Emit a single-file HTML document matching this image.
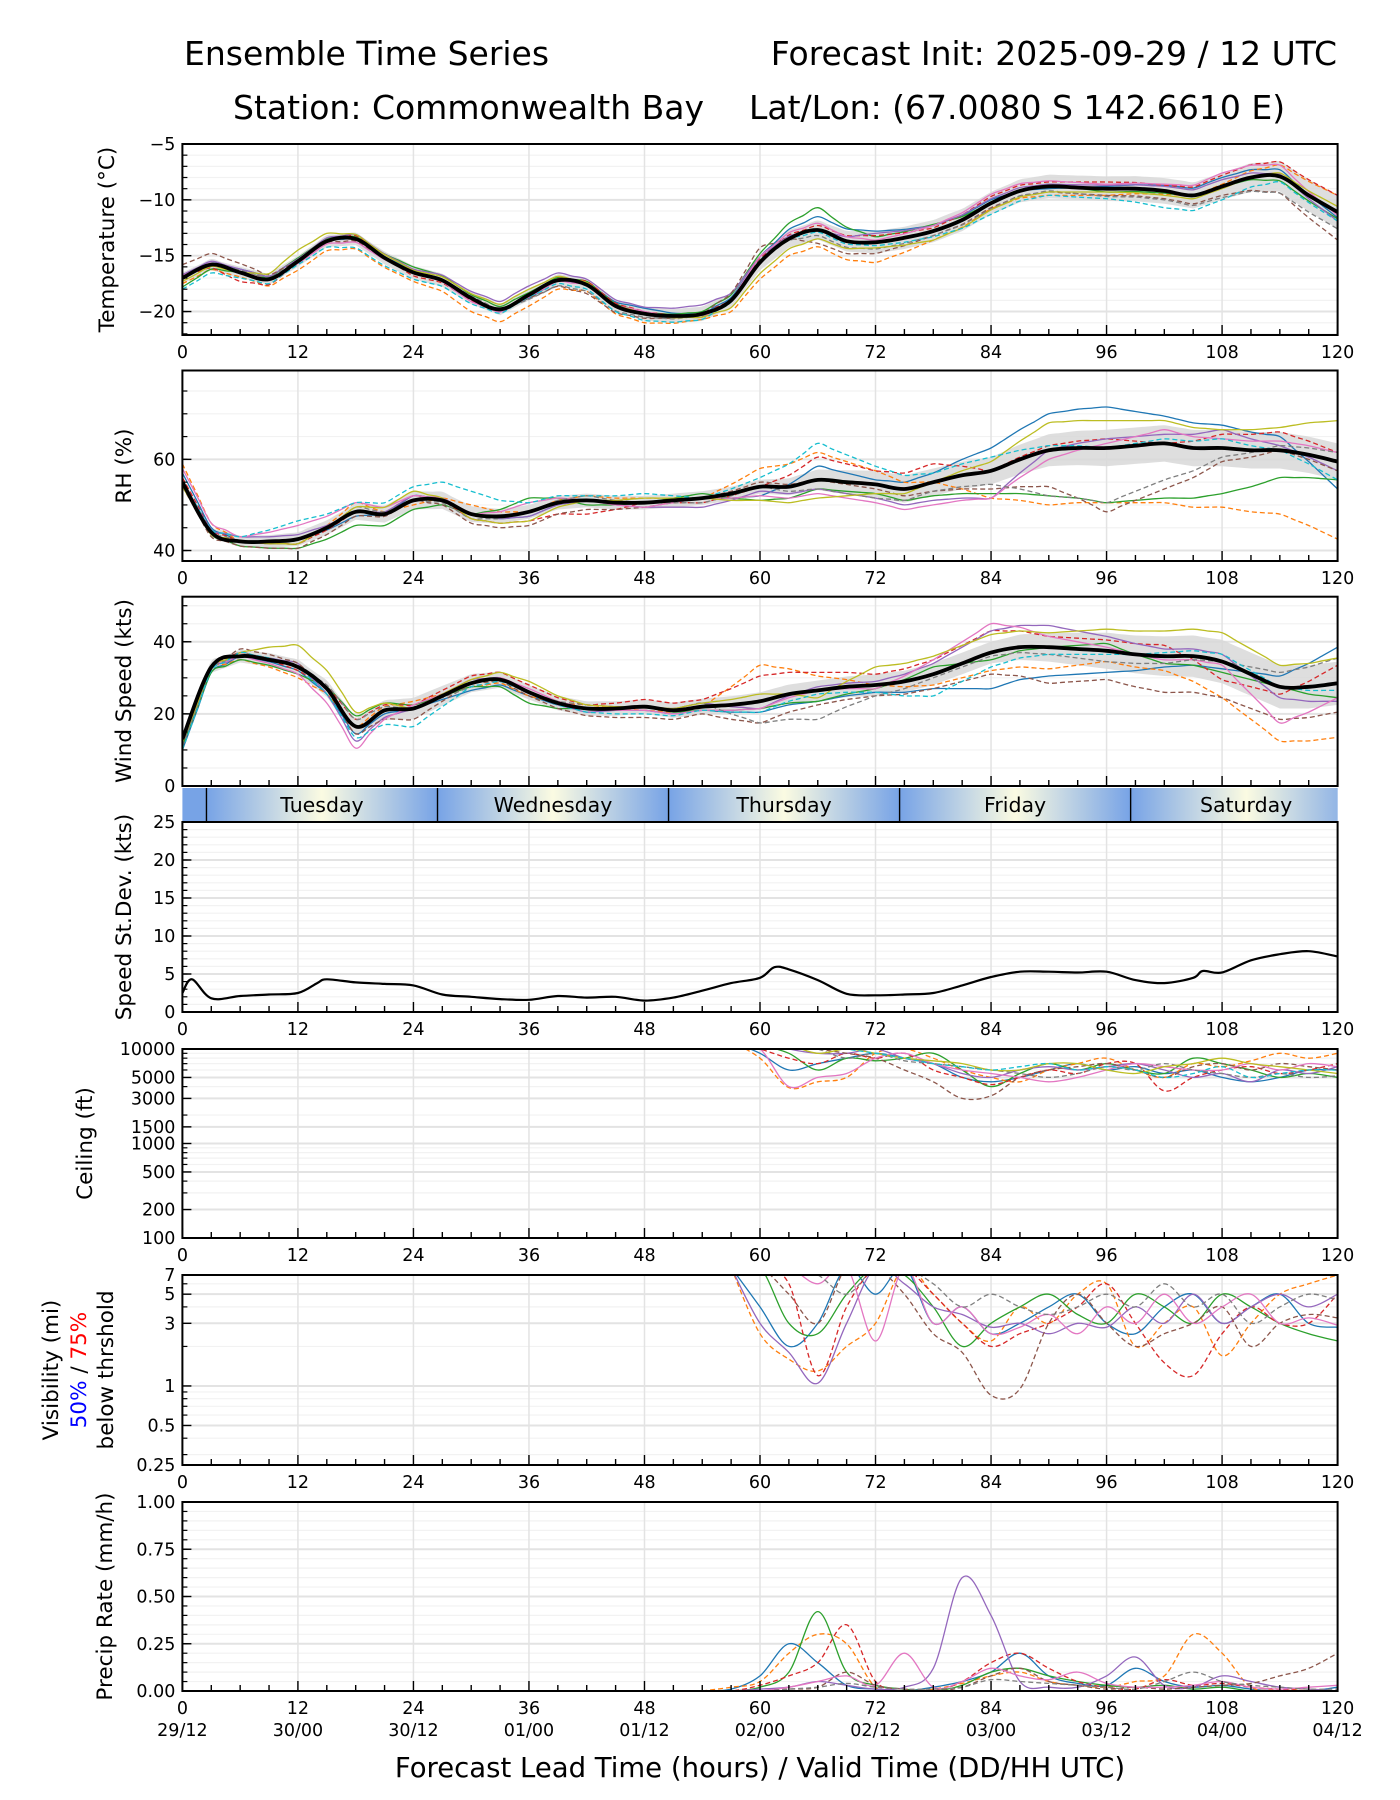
<!DOCTYPE html>
<html><head><meta charset="utf-8">
<style>
html,body{margin:0;padding:0;background:#fff;}
svg{display:block;font-family:"DejaVu Sans","Liberation Sans",sans-serif;}
</style></head>
<body>
<svg id="chart" width="1400" height="1800" viewBox="0 0 1400 1800" xmlns="http://www.w3.org/2000/svg">
<defs>
<linearGradient id="dayg" x1="0" x2="1" y1="0" y2="0">
<stop offset="0" stop-color="#77a3e6"/><stop offset="0.5" stop-color="#fbfbe2"/><stop offset="1" stop-color="#77a3e6"/>
</linearGradient>
</defs>
<text x="184" y="65" font-size="33">Ensemble Time Series</text>
<text x="1337" y="65" font-size="33" text-anchor="end">Forecast Init: 2025-09-29 / 12 UTC</text>
<text x="704" y="119" font-size="33" text-anchor="end">Station: Commonwealth Bay</text>
<text x="749" y="119" font-size="33">Lat/Lon: (67.0080 S 142.6610 E)</text>
<g id="root"></g>
</svg>
<script>
// ---------- data ----------
const meanHours = [0,3,6,9,12,15,18,21,24,27,30,33,36,39,42,45,48,51,54,57,60,63,66,69,72,75,78,81,84,87,90,93,96,99,102,105,108,111,114,117,120];
const devHours = [0,6,12,18,24,30,36,42,48,54,60,66,72,78,84,90,96,102,108,114,120];
const spreadHours = [0,12,24,36,48,60,72,84,96,108,120];
const tempMean = [-17,-15.8,-16.5,-17.1,-15.5,-13.7,-13.5,-15.2,-16.5,-17.2,-18.8,-19.8,-18.5,-17.2,-17.6,-19.5,-20.2,-20.4,-20.2,-19.0,-15.6,-13.5,-12.7,-13.7,-13.8,-13.4,-12.8,-11.8,-10.3,-9.2,-8.8,-8.9,-9.0,-9.0,-9.2,-9.6,-8.8,-8.0,-7.9,-9.6,-11.1];
const tempSpread = [0.5,0.5,0.6,0.5,0.6,0.7,1,1,1.1,1.2,1.5];
const tempDev0 = [0,0.3,0.2,0,0.2,0,-0.3,0.2,0.5,0,0.5,1.2,1.0,0.5,0.3,-0.2,0.2,0.5,0.8,0.6,-0.5];
const tempDev1 = [-0.5,-0.4,-0.8,-0.9,-0.8,-1.2,-1.0,-0.6,-0.8,-0.5,-1.5,-1.5,-1.8,-0.8,-0.5,-0.8,-0.6,-0.3,0.2,1.0,1.5];
const tempDev2 = [-0.8,0,0.3,0.2,0.5,0.3,0.2,0.3,0.1,0.2,0.8,2.0,0.5,0.6,0,0.2,-0.3,-0.2,0,-0.4,-0.6];
const tempDev3 = [0.2,-0.8,-0.2,0.3,-0.3,-0.2,0,0.3,0.2,-0.1,0.3,0.4,0.6,0.3,0.6,0.4,0.6,0.5,1.0,1.3,1.5];
const tempDev4 = [0.3,0.3,0.2,0.4,0.3,0.6,0.8,0.5,0.6,0.8,0.5,0,0.8,0.5,0.4,0.2,0.3,0.4,0.6,0.2,-0.8];
const tempDev5 = [1.2,0.8,0,-0.2,0,0,-0.3,-0.8,-0.4,0,1.3,-1.2,-1.0,-0.4,-0.4,-0.5,-0.6,-0.7,-0.8,-1.5,-2.5];
const tempDev6 = [0.2,0.1,-0.2,-0.3,0,-0.3,-0.2,0,0.2,-0.3,0.5,0.6,0.2,0.5,0.8,0.5,0.4,0.6,1.2,1.0,-0.3];
const tempDev7 = [0,0.2,0,0.1,-0.1,0.2,-0.4,-0.6,-0.3,-0.2,0.2,-0.5,-0.6,-0.4,-0.5,-0.4,-0.7,-0.8,-1.0,-1.5,-1.5];
const tempDev8 = [-0.3,0,1.0,0.4,0.2,0.4,0.5,0.2,0,-0.3,-1.0,-0.8,-0.5,-0.8,-0.6,-0.5,-0.3,-0.4,-0.2,0.3,0.5];
const tempDev9 = [-1.0,-0.5,-0.3,-0.8,-0.6,-0.5,-0.2,-0.4,-0.6,-0.5,0.2,-0.2,-0.3,-0.5,-1.0,-0.8,-0.9,-1.5,-1.2,-0.5,-0.8];

const rhMean = [55,44,42,42,42.5,45,48.5,48,51,51,48,47.5,48.5,50.5,51,50.5,50.5,51,51.5,52.5,54,54,55.5,55,54.5,53.5,55,56.5,57.5,60,62,62.5,62.5,63,63.5,62.5,62.5,62,62,61,59.5];
const rhSpread = [1,1.5,2,1.5,1.5,1.5,3,3,4,4,4];
const rhDev0 = [2,0,0,-1,1,0,-1,0,0,0,-2,3,1,2,5,8,9,6,5,3,-6];
const rhDev1 = [4,0,-1,2,-1,2,0,1,1,0,4,6,3,0,-6,-12,-12,-13,-13,-14,-17];
const rhDev2 = [0,-1,-2,-3,-2,0,3,-1,0,1,-3,-2,-2,-3,-5,-10,-12,-12,-10,-6,-4];
const rhDev3 = [1,0,-1,0,1,-1,-2,-3,0,-1,0,5,3,4,0,1,2,0,3,4,2];
const rhDev4 = [0,1,1,0,1,0,-1,0,-1,-2,-1,-2,-3,-4,-6,0,2,2,4,1,-2];
const rhDev5 = [-1,-1,-2,-1,0,-2,-3,-2,-1,0,1,0,-1,-2,-4,-8,-14,-10,-3,0,-2];
const rhDev6 = [3,1,3,2,1,0,2,0,-1,0,-2,-3,-4,-5,-6,-2,1,3,2,2,2];
const rhDev7 = [0,0,-1,1,0,-1,0,1,0,-1,0,-2,-3,-2,-3,-10,-12,-8,-2,1,2];
const rhDev8 = [-1,0,-1,1,2,-1,-2,0,1,0,-3,-4,-2,0,2,6,6,5,4,5,9];
const rhDev9 = [0,1,4,2,3,5,2,1,2,0,2,8,4,2,3,1,0,1,2,0,-4];

const windMean = [13,33,36,35,33,27,16.5,21,21.5,25,28.5,29.5,26,23,21.5,21.5,22,21,22,22.5,23.5,25.5,26.5,27.5,28,29,31,34,37,38.5,38.5,38,37.5,36.5,36,36,34.5,31,27.5,27.5,28.5];
const windSpread = [1.5,2,3,2,2,2.5,3,3,5,6,6];
const windDev0 = [-3,0,-1,-2,0,-2,-1,0,-1,-1,-3,-3,-2,-4,-10,-8,-6,-3,-2,3,10];
const windDev1 = [0,-1,-3,0,2,-1,-1,1,-1,0,10,4,0,-3,-5,-6,-3,-4,-10,-15,-15];
const windDev2 = [-2,-1,-2,3,1,-1,-3,0,0,-1,-2,-3,-1,2,-2,0,2,-2,-3,0,-4];
const windDev3 = [0,1,-1,2,1,2,2,1,2,2,7,5,3,4,6,3,3,3,-5,-2,5];
const windDev4 = [-1,0,1,-4,0,1,0,-1,0,1,-2,1,1,3,6,6,4,2,2,-3,-5];
const windDev5 = [-3,2,1,-2,-3,0,-1,-2,-3,-2,-6,-4,-3,-4,-6,-10,-8,-10,-10,-9,-8];
const windDev6 = [0,0,-2,-6,1,0,1,0,-1,-1,-2,0,-1,4,8,3,1,-1,-1,-10,-4];
const windDev7 = [-2,1,0,2,0,-1,0,1,0,1,-6,-8,-3,-1,-1,-2,-3,-2,0,4,7];
const windDev8 = [-1,1,6,4,0,1,3,1,0,1,2,-2,5,5,5,4,6,7,8,6,7];
const windDev9 = [-3,1,0,-3,-5,-1,0,-1,-2,-1,-3,-1,-2,-6,-4,-2,-1,1,2,0,-2];

const stdevHours = [0,1,3,6,9,12,14,15,18,21,24,27,30,33,36,39,42,45,48,51,54,57,60,61.5,63,66,69,72,75,78,81,84,87,90,93,96,99,102,105,106,108,111,114,117,120];
const stdevVals = [2.5,4.3,1.8,2.1,2.3,2.5,3.8,4.3,3.9,3.7,3.5,2.3,2.0,1.7,1.6,2.1,1.9,2.0,1.5,1.9,2.8,3.8,4.5,5.9,5.6,4.2,2.4,2.2,2.3,2.5,3.5,4.6,5.3,5.3,5.2,5.3,4.2,3.8,4.5,5.4,5.2,6.8,7.6,8.0,7.3];

const lateHours = [57,60,63,66,69,72,75,78,81,84,87,90,93,96,99,102,105,108,111,114,117,120];
const ceil0 = [12000,9000,6000,7000,8000,9000,8000,7000,5000,4500,5000,6000,7000,6000,6500,5500,6000,5000,4500,5000,6000,6000];
const ceil1 = [12000,8000,3900,4500,5000,9000,10000,8000,6000,5000,4500,6000,7000,8000,6000,5000,7000,6500,7500,9000,8000,9000];
const ceil2 = [12000,11000,9000,6000,8000,7500,8000,9000,6000,4000,5500,7000,6000,7000,6000,5500,8000,7000,6000,5000,5500,5000];
const ceil3 = [12000,10000,8000,7000,9000,8000,9000,6000,5000,4200,5000,6000,5500,7000,7000,3600,5000,6000,6500,5500,6000,7000];
const ceil4 = [12000,12000,10000,9000,9000,10000,8000,7000,5500,5000,6000,6500,6000,6500,7000,6000,5000,5500,4500,6000,5500,6500];
const ceil5 = [12000,12000,11000,10000,9000,8000,6000,4500,3000,3200,5000,6000,6500,7000,6000,5000,6500,7000,6000,7000,6500,6000];
const ceil6 = [12000,10000,4000,5000,5500,8000,9000,7000,6000,5500,5000,4500,5000,6000,7000,6500,6000,6000,7000,6000,7000,6500];
const ceil7 = [12000,12000,12000,10000,8000,9000,7500,7000,6500,6000,5500,5000,5500,6500,6000,7000,6000,5500,5000,5500,5000,5200];
const ceil8 = [12000,12000,11000,9000,10000,9000,8000,7500,7000,6000,6000,7000,7000,6000,5500,6500,7000,8000,7000,6500,6000,5500];
const ceil9 = [12000,12000,12000,11000,10000,9000,8000,7000,6500,6000,6500,7000,6000,6500,6000,5000,5500,6500,5000,5500,6000,6000];

const vis0 = [8,4,2,3,8,5,8,3,4,2.5,3,4,5,3,2.5,4,5,3,4,5,3,2.8];
const vis1 = [8,2.5,1.6,1.3,2,3,8,5,3,2.2,4,3,5,6,2,3,4,1.7,3,5,6,7];
const vis2 = [8,8,3,2.5,5,8,7,4,2,3,4,5,3.5,3,5,4,3,5,4,3,2.5,2.2];
const vis3 = [8,8,6,1.2,4,8,8,5,3,2,2.5,3,4,6,3,1.5,1.2,2.5,4,3,3,5];
const vis4 = [8,3,1.8,1.05,3,8,6,4,3.5,2.8,3,2.5,3,2.8,4,3,5,3,4,5,4,5];
const vis5 = [8,8,5,3,8,8,5,2.5,1.8,0.85,0.95,3,5,3,2,2.5,3,4,2,3,3.5,3.3];
const vis6 = [8,8,8,6,8,2.2,8,3,4,2.5,2.8,3.5,2.5,4,3,5,3,4,5,3,3.3,2.9];
const vis7 = [8,8,8,7,5,8,8,6,4,5,4,3.5,4,5,4,6,4,5,3,4,5,4.5];

const precipHours = [54,57,60,63,66,69,72,75,78,81,84,87,90,93,96,99,102,105,108,111,114,117,120];
const precip0 = [0,0.01,0.08,0.25,0.15,0.03,0.01,0.0,0.02,0.05,0.1,0.2,0.08,0.04,0.03,0.12,0.05,0.02,0.03,0.01,0,0,0.02];
const precip1 = [0,0.02,0.05,0.2,0.3,0.25,0.02,0,0.01,0.04,0.08,0.1,0.05,0.03,0.02,0.05,0.08,0.3,0.2,0.02,0.01,0.01,0];
const precip2 = [0,0,0.02,0.1,0.42,0.1,0.03,0.01,0,0.03,0.1,0.12,0.08,0.05,0.03,0.02,0.03,0.01,0.02,0,0,0,0];
const precip3 = [0,0,0.03,0.08,0.15,0.35,0.05,0.01,0,0.05,0.15,0.2,0.12,0.05,0.02,0.01,0.06,0.03,0.04,0.02,0.01,0,0];
const precip4 = [0,0,0.01,0.02,0.05,0.03,0.01,0.02,0.12,0.6,0.4,0.05,0.02,0.02,0.08,0.18,0.03,0.02,0.08,0.05,0.02,0.01,0];
const precip5 = [0,0,0,0.01,0.02,0.1,0.03,0.01,0,0.02,0.08,0.12,0.05,0.03,0.01,0.02,0.01,0.02,0.03,0.04,0.08,0.12,0.2];
const precip6 = [0,0,0,0.02,0.05,0.08,0.03,0.2,0.02,0.05,0.12,0.08,0.06,0.1,0.04,0.02,0.02,0.03,0.05,0.02,0.01,0.02,0.03];
const precip7 = [0,0,0,0.01,0.02,0.04,0.02,0.01,0.01,0.02,0.06,0.05,0.04,0.03,0.02,0.01,0.05,0.1,0.05,0.03,0.02,0.01,0.01];

const dayNames = ["Tuesday","Wednesday","Thursday","Friday","Saturday"];
const dayStartHours = [2.5,26.5,50.5,74.5,98.5];
const hourTicks = [0,12,24,36,48,60,72,84,96,108,120];
const dateLabels = ["29/12","30/00","30/12","01/00","01/12","02/00","02/12","03/00","03/12","04/00","04/12"];

// ---------- helpers ----------
const NS = "http://www.w3.org/2000/svg";
const root = document.getElementById('root');
const L = 182.4, R = 1337.6;
const TF = 17.5;
const COLORS = ["#1f77b4","#ff7f0e","#2ca02c","#d62728","#9467bd","#8c564b","#e377c2","#7f7f7f","#bcbd22","#17becf"];
const xs = h => L + (R - L) * h / 120;
function mk(tag, attrs, parent) {
  const e = document.createElementNS(NS, tag);
  for (const k in attrs) e.setAttribute(k, attrs[k]);
  (parent || root).appendChild(e);
  return e;
}
function interp(hs, vs, h) {
  if (h <= hs[0]) return vs[0];
  for (let i = 1; i < hs.length; i++) if (h <= hs[i]) { const t = (h - hs[i-1]) / (hs[i] - hs[i-1]); return vs[i-1] + t * (vs[i] - vs[i-1]); }
  return vs[vs.length - 1];
}
function smoothPath(pts) {
  if (!pts.length) return "";
  let d = "M" + pts[0][0].toFixed(1) + "," + pts[0][1].toFixed(1);
  for (let i = 0; i < pts.length - 1; i++) {
    const p0 = pts[Math.max(0, i-1)], p1 = pts[i], p2 = pts[i+1], p3 = pts[Math.min(pts.length-1, i+2)];
    const c1x = p1[0] + (p2[0]-p0[0])/6, c1y = p1[1] + (p2[1]-p0[1])/6;
    const c2x = p2[0] - (p3[0]-p1[0])/6, c2y = p2[1] - (p3[1]-p1[1])/6;
    d += "C" + c1x.toFixed(1) + "," + c1y.toFixed(1) + " " + c2x.toFixed(1) + "," + c2y.toFixed(1) + " " + p2[0].toFixed(1) + "," + p2[1].toFixed(1);
  }
  return d;
}
let clipN = 0;
function panel(name, top, bot, ys, majors, minors, labelFmt, showHourLabels) {
  const g = mk('g', {});
  
  
  const id = 'clip' + (clipN++);
  const cp = mk('clipPath', {id: id}, g);
  mk('rect', {x: L, y: top, width: R - L, height: bot - top}, cp);
  minors.forEach(v => { const y = ys(v); mk('line', {x1: L, x2: R, y1: y, y2: y, stroke: '#f2f2f2', 'stroke-width': 1.2}, g); });
  hourTicks.forEach(h => { const x = xs(h); mk('line', {x1: x, x2: x, y1: top, y2: bot, stroke: '#e3e3e3', 'stroke-width': 1.5}, g); });
  majors.forEach(v => { const y = ys(v); mk('line', {x1: L, x2: R, y1: y, y2: y, stroke: '#e3e3e3', 'stroke-width': 2}, g); });
  const plot = mk('g', {'clip-path': 'url(#' + id + ')'}, g);
  const finish = () => {
    const ax = mk('g', {});
    
    
    for (let h = 0; h <= 120; h += 3) { const x = xs(h); const len = h % 12 === 0 ? 10 : 6; mk('line', {x1: x, x2: x, y1: bot, y2: bot - len, stroke: '#000', 'stroke-width': 1.4}, ax); }
    minors.forEach(v => { const y = ys(v); mk('line', {x1: L, x2: L + 5, y1: y, y2: y, stroke: '#000', 'stroke-width': 1.2}, ax); });
    majors.forEach((v, i) => {
      const y = ys(v);
      mk('line', {x1: L, x2: L + 9, y1: y, y2: y, stroke: '#000', 'stroke-width': 1.4}, ax);
      const t = mk('text', {x: L - 7, y: y + 6, 'font-size': TF, 'text-anchor': 'end'}, ax);
      t.textContent = labelFmt(v);
    });
    mk('rect', {x: L, y: top, width: R - L, height: bot - top, fill: 'none', stroke: '#000', 'stroke-width': 2}, ax);
    if (showHourLabels) hourTicks.forEach(h => { const t = mk('text', {x: xs(h), y: bot + 23, 'font-size': TF, 'text-anchor': 'middle'}, ax); t.textContent = h; });
  };
  return {plot, finish};
}
function ylabel(lines, cx, cy) {
  lines.forEach(l => {
    const t = mk('text', {transform: 'translate(' + l.x + ',' + cy + ') rotate(-90)', 'font-size': 21.5, 'text-anchor': 'middle'});
    
    
    l.parts.forEach(p => { const s = mk('tspan', {fill: p.c || '#000'}, t); s.textContent = p.t; });
  });
}
function ensemblePanel(name, top, bot, ys, mean, spread, devs, majors, minors, fmt) {
  const p = panel(name, top, bot, ys, majors, minors, fmt, name !== 'wind');
  const up = [], lo = [];
  for (let h = 0; h <= 120; h += 1) { const m = interp(meanHours, mean, h), s = interp(spreadHours, spread, h); up.push([xs(h), ys(m + s)]); lo.push([xs(h), ys(m - s)]); }
  const band = mk('path', {d: smoothPath(up) + 'L' + lo.reverse().map(q => q[0].toFixed(1) + ',' + q[1].toFixed(1)).join('L') + 'Z', fill: '#d8d8d8', opacity: 0.85}, p.plot);
  
  
  devs.forEach((dv, i) => {
    const pts = [];
    for (let h = 0; h <= 120; h += 1.5) pts.push([xs(h), ys(interp(meanHours, mean, h) + interp(devHours, dv, h))]);
    const ln = mk('path', {d: smoothPath(pts), fill: 'none', stroke: COLORS[i], 'stroke-width': 1.3, 'stroke-dasharray': (i % 2 ? '5,3' : 'none')}, p.plot);
    
    
  });
  const mpts = meanHours.map((h, i) => [xs(h), ys(mean[i])]);
  const ml = mk('path', {d: smoothPath(mpts), fill: 'none', stroke: '#000', 'stroke-width': 3.8}, p.plot);
  
  
  p.finish();
}
const lin = (top, bot, a, b) => v => bot - (v - a) / (b - a) * (bot - top);
const lg = (top, bot, a, b) => v => bot - (Math.log(v) - Math.log(a)) / (Math.log(b) - Math.log(a)) * (bot - top);
const range = (a, b, s) => { const r = []; for (let v = a; v <= b + 1e-9; v += s) r.push(+v.toFixed(4)); return r; };

ensemblePanel('temp', 144, 335, lin(144, 335, -22.1, -5), tempMean, tempSpread,
  [tempDev0,tempDev1,tempDev2,tempDev3,tempDev4,tempDev5,tempDev6,tempDev7,tempDev8,tempDev9],
  [-20,-15,-10,-5], range(-22, -5, 1), v => '\u2212' + Math.abs(v));
ylabel([{x: 114, name: 'temp-y-title', parts: [{t: 'Temperature (°C)'}]}], 0, 239.5);
ensemblePanel('rh', 370.5, 561, lin(370.5, 561, 37.7, 79.5), rhMean, rhSpread,
  [rhDev0,rhDev1,rhDev2,rhDev3,rhDev4,rhDev5,rhDev6,rhDev7,rhDev8,rhDev9],
  [40,60], range(40, 75, 5), v => v);
ylabel([{x: 131, name: 'rh-y-title', parts: [{t: 'RH (%)'}]}], 0, 466);
ensemblePanel('wind', 596.7, 786, lin(596.7, 786, 0, 52.5), windMean, windSpread,
  [windDev0,windDev1,windDev2,windDev3,windDev4,windDev5,windDev6,windDev7,windDev8,windDev9],
  [0,20,40], range(0, 50, 5), v => v);
ylabel([{x: 131, name: 'wind-y-title', parts: [{t: 'Wind Speed (kts)'}]}], 0, 691);

(function(){
  const g = mk('g', {});
  
  
  const cp = mk('clipPath', {id: 'bandclip'}, g);
  mk('rect', {x: L, y: 788, width: R - L, height: 34}, cp);
  mk('rect', {x: L, y: 788, width: R - L, height: 34, fill: '#77a3e6'}, g);
  dayStartHours.forEach((h, i) => {
    const x0 = xs(h);
    const w = xs(h + 24) - x0;
    const r = mk('rect', {x: x0, y: 788, width: w, height: 34, fill: 'url(#dayg)', 'clip-path': 'url(#bandclip)'}, g);
    
    
    mk('line', {x1: x0, x2: x0, y1: 788, y2: 822, stroke: '#000', 'stroke-width': 1.4}, g);
    const t = mk('text', {x: x0 + w / 2, y: 812, 'font-size': 20.5, 'text-anchor': 'middle'}, g);
    t.textContent = dayNames[i];
  });
})();

(function(){
  const ys = lin(822, 1012, 0, 25);
  const p = panel('stdev', 822, 1012, ys, [0,5,10,15,20,25], range(0, 25, 1), v => v, true);
  const pts = stdevHours.map((h, i) => [xs(h), ys(stdevVals[i])]);
  const l = mk('path', {d: smoothPath(pts), fill: 'none', stroke: '#000', 'stroke-width': 2.2}, p.plot);
  
  
  p.finish();
  ylabel([{x: 131, name: 'stdev-y-title', parts: [{t: 'Speed St.Dev. (kts)'}]}], 0, 917);
})();

function memberPanel(name, top, bot, ys, hours, series, majors, minors, fmt) {
  const p = panel(name, top, bot, ys, majors, minors, fmt, true);
  series.forEach((s, i) => {
    const pts = hours.map((h, j) => [xs(h), ys(s[j])]);
    const ln = mk('path', {d: smoothPath(pts), fill: 'none', stroke: COLORS[i % 10], 'stroke-width': 1.3, 'stroke-dasharray': (i % 2 ? '5,3' : 'none')}, p.plot);
    
    
  });
  p.finish();
}
memberPanel('ceiling', 1049, 1238, lg(1049, 1238, 100, 10000), lateHours,
  [ceil0,ceil1,ceil2,ceil3,ceil4,ceil5,ceil6,ceil7,ceil8,ceil9],
  [100,200,500,1000,1500,3000,5000,10000], [300,400,600,700,800,900,2000,4000,6000,7000,8000,9000], v => v);
ylabel([{x: 92, name: 'ceiling-y-title', parts: [{t: 'Ceiling (ft)'}]}], 0, 1143.5);
memberPanel('visibility', 1275, 1465, lg(1275, 1465, 0.25, 7), lateHours,
  [vis0,vis1,vis2,vis3,vis4,vis5,vis6,vis7],
  [0.25,0.5,1,3,5,7], [0.3,0.4,0.6,0.7,0.8,0.9,2,4,6], v => v);
ylabel([
  {x: 58, name: 'visibility-y-title', parts: [{t: 'Visibility (mi)'}]},
  {x: 86, name: 'visibility-threshold-legend', parts: [{t: '50%', c: '#0000ff'}, {t: ' / '}, {t: '75%', c: '#ff0000'}]},
  {x: 113, name: 'visibility-threshold-label', parts: [{t: 'below thrshold'}]}
], 0, 1370);
memberPanel('precip', 1502, 1691, lin(1502, 1691, 0, 1), precipHours,
  [precip0,precip1,precip2,precip3,precip4,precip5,precip6,precip7],
  [0,0.25,0.5,0.75,1], range(0, 1, 0.05), v => v.toFixed(2));
ylabel([{x: 112, name: 'precip-y-title', parts: [{t: 'Precip Rate (mm/h)'}]}], 0, 1596.5);

hourTicks.forEach((h, i) => {
  const t = mk('text', {x: xs(h), y: 1736, 'font-size': TF, 'text-anchor': 'middle'});
  
  
  t.textContent = dateLabels[i];
});
const xt = mk('text', {x: 760, y: 1777, 'font-size': 27.5, 'text-anchor': 'middle'});


xt.textContent = 'Forecast Lead Time (hours) / Valid Time (DD/HH UTC)';
</script>
</body></html>
